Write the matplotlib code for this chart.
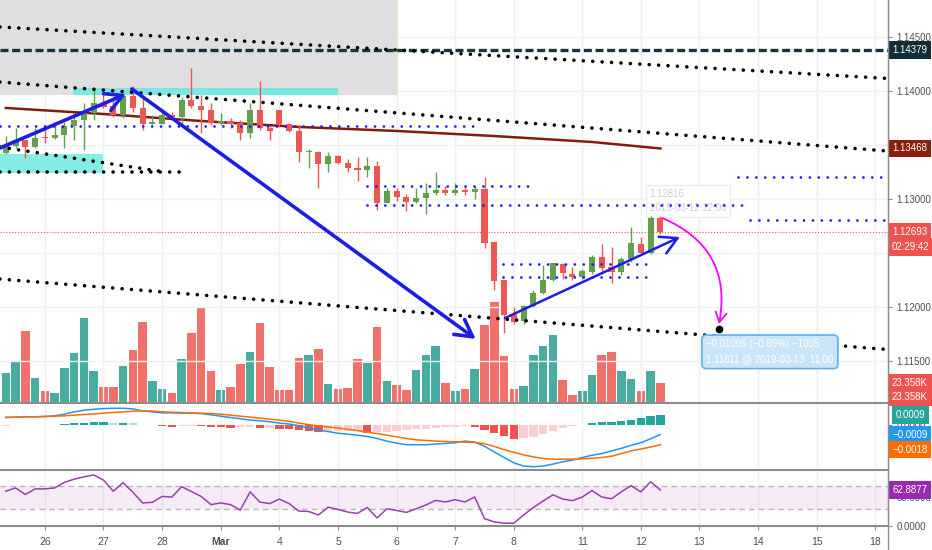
import matplotlib

matplotlib.use("Agg")
import matplotlib.pyplot as plt
import numpy as np
from matplotlib.lines import Line2D
from matplotlib.patches import FancyArrowPatch, Rectangle

plt.rcParams["font.family"] = ["Liberation Sans", "DejaVu Sans"]

# ---------- data (4h candles, EURUSD-like) ----------
opens = [1.13426, 1.13491, 1.13546, 1.13478, 1.13574, 1.13568, 1.13593, 1.13676, 1.13731, 1.13799,
         1.13892, 1.13861, 1.13778, 1.13954, 1.13846, 1.13694, 1.13694, 1.13778, 1.13759, 1.13917,
         1.13864, 1.13824, 1.13701, 1.13722, 1.13701, 1.13608, 1.13824, 1.13654, 1.13824, 1.13692,
         1.13630, 1.13438, 1.13438, 1.13321, 1.13398, 1.13336, 1.13290, 1.13269, 1.13306, 1.12966,
         1.13077, 1.13021, 1.12975, 1.13012, 1.13059, 1.13083, 1.13053, 1.13083, 1.13062, 1.13093,
         1.12599, 1.12250, 1.11935, 1.11873, 1.12009, 1.12127, 1.12250, 1.12398, 1.12306, 1.12275,
         1.12327, 1.12460, 1.12367, 1.12327, 1.12442, 1.12583, 1.12503, 1.12827]
highs = [1.13583, 1.13657, 1.13546, 1.13657, 1.13667, 1.13685, 1.13713, 1.13796, 1.13889, 1.14040,
         1.13981, 1.13944, 1.13981, 1.14046, 1.13944, 1.13778, 1.13806, 1.13806, 1.13947, 1.14213,
         1.13963, 1.13889, 1.13796, 1.13750, 1.13731, 1.13889, 1.14096, 1.13676, 1.13824, 1.13700,
         1.13685, 1.13463, 1.13444, 1.13438, 1.13407, 1.13370, 1.13386, 1.13386, 1.13355, 1.13099,
         1.13099, 1.13043, 1.13099, 1.13151, 1.13247, 1.13120, 1.13151, 1.13111, 1.13124, 1.13201,
         1.12605, 1.12250, 1.11997, 1.12018, 1.12154, 1.12389, 1.12410, 1.12404, 1.12370, 1.12355,
         1.12484, 1.12583, 1.12552, 1.12460, 1.12738, 1.12648, 1.12843, 1.12843]
lows = [1.13417, 1.13472, 1.13380, 1.13472, 1.13519, 1.13560, 1.13472, 1.13546, 1.13454, 1.13731,
        1.13843, 1.13759, 1.13750, 1.13806, 1.13639, 1.13690, 1.13690, 1.13750, 1.13685, 1.13843,
        1.13611, 1.13685, 1.13685, 1.13657, 1.13546, 1.13565, 1.13639, 1.13546, 1.13667, 1.13620,
        1.13345, 1.13287, 1.13099, 1.13253, 1.13324, 1.13253, 1.13167, 1.13207, 1.12898, 1.12960,
        1.12985, 1.12892, 1.12960, 1.12858, 1.13040, 1.13040, 1.13040, 1.13033, 1.13000, 1.12544,
        1.12157, 1.11762, 1.11847, 1.11843, 1.12000, 1.12120, 1.12240, 1.12255, 1.12250, 1.12262,
        1.12310, 1.12330, 1.12219, 1.12300, 1.12420, 1.12500, 1.12490, 1.12680]
closes = [1.13500, 1.13546, 1.13478, 1.13568, 1.13565, 1.13593, 1.13676, 1.13731, 1.13799, 1.13892,
          1.13855, 1.13778, 1.13954, 1.13846, 1.13694, 1.13710, 1.13778, 1.13756, 1.13917, 1.13864,
          1.13824, 1.13701, 1.13722, 1.13692, 1.13608, 1.13824, 1.13654, 1.13632, 1.13682, 1.13630,
          1.13438, 1.13445, 1.13321, 1.13398, 1.13336, 1.13290, 1.13269, 1.13306, 1.12966, 1.13077,
          1.13021, 1.12975, 1.13012, 1.13059, 1.13083, 1.13053, 1.13083, 1.13062, 1.13090, 1.12595,
          1.12244, 1.11926, 1.11864, 1.12009, 1.12127, 1.12250, 1.12404, 1.12318, 1.12275, 1.12336,
          1.12460, 1.12358, 1.12327, 1.12442, 1.12590, 1.12503, 1.12827, 1.12693]

# volume, thousands
volume_k = [34.7, 47.9, 84.5, 28.8, 13.7, 11.3, 40.5, 58.0, 99.3, 37.0,
            18.7, 18.7, 42.9, 61.9, 94.3, 25.7, 16.7, 11.3, 51.0, 81.4,
            110.6, 37.0, 14.8, 18.7, 45.9, 59.9, 93.4, 41.7, 15.5, 14.8,
            52.9, 55.7, 63.1, 21.8, 16.0, 17.2, 51.4, 46.4, 88.8, 25.3,
            21.4, 15.5, 38.5, 56.4, 66.9, 23.4, 13.7, 16.4, 39.7, 91.1,
            117.6, 54.5, 16.7, 20.2, 55.7, 66.9, 79.1, 26.9, 9.3, 13.7,
            32.4, 55.7, 59.9, 37.7, 28.4, 13.7, 37.7, 23.358]

# moving average (sampled at candle index)
ma_idx = [0, 10, 20, 30, 40, 50, 60, 67]
ma_val = [1.13843, 1.13787, 1.13722, 1.13667, 1.13630, 1.13583, 1.13528, 1.13468]

macd = [0.00069, 0.00072, 0.00075, 0.00075, 0.00078, 0.00084, 0.00099, 0.00120, 0.00135, 0.00144,
        0.00150, 0.00153, 0.00153, 0.00147, 0.00129, 0.00120, 0.00111, 0.00111, 0.00108, 0.00108,
        0.00105, 0.00093, 0.00081, 0.00069, 0.00057, 0.00045, 0.00039, 0.00030, 0.00018, 0.00009,
        -0.00006, -0.00027, -0.00045, -0.00060, -0.00075, -0.00084, -0.00093, -0.00105, -0.00123, -0.00147,
        -0.00165, -0.00180, -0.00180, -0.00180, -0.00174, -0.00168, -0.00162, -0.00147, -0.00156, -0.00195,
        -0.00246, -0.00297, -0.00345, -0.00375, -0.00381, -0.00375, -0.00357, -0.00336, -0.00321, -0.00297,
        -0.00276, -0.00261, -0.00237, -0.00213, -0.00186, -0.00162, -0.00126, -0.00087]
signal = [0.00069, 0.00072, 0.00075, 0.00075, 0.00078, 0.00081, 0.00084, 0.00090, 0.00096, 0.00102,
          0.00108, 0.00114, 0.00120, 0.00126, 0.00129, 0.00129, 0.00120, 0.00117, 0.00114, 0.00111,
          0.00108, 0.00105, 0.00099, 0.00090, 0.00081, 0.00072, 0.00063, 0.00054, 0.00045, 0.00033,
          0.00018, 0.00003, -0.00009, -0.00018, -0.00027, -0.00039, -0.00051, -0.00066, -0.00078, -0.00093,
          -0.00108, -0.00123, -0.00135, -0.00141, -0.00147, -0.00150, -0.00153, -0.00156, -0.00159, -0.00171,
          -0.00195, -0.00225, -0.00249, -0.00273, -0.00291, -0.00306, -0.00312, -0.00312, -0.00312, -0.00309,
          -0.00303, -0.00297, -0.00285, -0.00261, -0.00237, -0.00219, -0.00201, -0.00180]
hist = [-0.00006, 0.0, 0.0, 0.0, 0.00003, 0.00003, 0.00009, 0.00015, 0.00021, 0.00027,
        0.00027, 0.00018, 0.00021, 0.00015, 0.00003, 0.0, -0.00009, -0.00015, -0.00009, -0.00006,
        -0.00009, -0.00015, -0.00021, -0.00027, -0.00021, -0.00021, -0.00030, -0.00030, -0.00033, -0.00039,
        -0.00045, -0.00051, -0.00060, -0.00057, -0.00057, -0.00054, -0.00051, -0.00072, -0.00066, -0.00060,
        -0.00054, -0.00045, -0.00039, -0.00033, -0.00027, -0.00021, -0.00015, -0.00009, -0.00021, -0.00045,
        -0.00072, -0.00102, -0.00126, -0.00123, -0.00105, -0.00081, -0.00051, -0.00027, -0.00009, 0.0,
        0.00018, 0.00024, 0.00027, 0.00033, 0.00045, 0.00063, 0.00078, 0.00093]

rsi = [61.0, 66.7, 55.2, 65.0, 65.0, 66.7, 76.4, 82.1, 86.1, 89.5,
       80.4, 61.0, 75.8, 59.2, 40.4, 41.5, 51.8, 50.7, 69.0, 60.4,
       51.8, 37.5, 40.4, 37.5, 27.8, 59.8, 42.1, 39.2, 47.2, 39.2,
       26.1, 25.5, 19.3, 33.0, 29.0, 24.4, 22.1, 32.4, 14.1, 30.1,
       27.2, 23.8, 30.1, 36.9, 44.9, 42.1, 46.1, 42.1, 50.7, 12.9,
       7.2, 4.9, 4.9, 19.3, 32.4, 43.8, 54.7, 47.2, 44.4, 50.7,
       62.1, 50.7, 47.8, 59.8, 70.7, 59.8, 77.5, 63.2]

day_ticks = [4, 10, 16, 22, 28, 34, 40, 46, 52, 59, 65, 71, 77, 83, 89]
day_labels = ["26", "27", "28", "Mar", "4", "5", "6", "7", "8", "11", "12", "13", "14", "15", "18"]

price_grid = [1.115, 1.12, 1.125, 1.13, 1.135, 1.14, 1.145]
# 1.13500 and 1.12500 sit under the label boxes in the reference
price_ticks = [1.115, 1.12, 1.13, 1.14, 1.145]

# drawings, (candle index, price)
trend_black = [((-0.6, 90.3), (1.14593, 1.14116)),
               ((-0.6, 90.3), (1.14083, 1.13444)),
               ((-0.6, 90.3), (1.12259, 1.11606)),
               ((-0.6, 16.3), (1.13481, 1.13250)),
               ((-0.6, 17.8), (1.13250, 1.13250))]
levels_blue = [(-0.6, 48.0, 1.13679), (37.0, 54.0, 1.13120), (37.0, 76.0, 1.12944),
               (74.9, 90.0, 1.13204), (76.2, 90.0, 1.12806), (50.9, 65.7, 1.12398),
               (50.9, 65.7, 1.12275)]
arrows_blue = [((-0.6, 1.13472), (12.3, 1.13972), 2.6),
               ((12.9, 1.14019), (48.1, 1.11704), 2.6),
               ((51.1, 1.11898), (69.0, 1.12648), 1.8)]
last_price = 1.12693
line_14379 = 1.14379

# ---------- style ----------
UP, DOWN = "#62a04b", "#ee5652"
VOL_UP, VOL_DOWN = "#48ada0", "#f0716c"
BLUE = "#1d1de6"
GRID = "#eef0f4"
TXT = "#4f4f4f"
AXLINE = "#8c8c8c"

W, H = 932, 550
fig = plt.figure(figsize=(W / 100, H / 100), dpi=100)
fig.patch.set_facecolor("white")


def rect(top, bottom, right=888):
    return [0, 1 - bottom / H, right / W, (bottom - top) / H]


ax_vol = fig.add_axes(rect(0, 403))
ax = fig.add_axes(rect(0, 403), facecolor="none")
ax_macd = fig.add_axes(rect(404, 470))
ax_rsi = fig.add_axes(rect(472, 526))

XLIM = (-0.594, 90.3)
idx = np.arange(len(closes))
o = np.array(opens)
c = np.array(closes)
up = c >= o

for a in (ax_vol, ax, ax_macd, ax_rsi):
    a.set_xlim(*XLIM)
    for s in ("left", "top"):
        a.spines[s].set_visible(False)
    a.spines["right"].set_color(AXLINE)
    a.spines["bottom"].set_color(AXLINE)
    a.spines["bottom"].set_linewidth(1.5)
    a.set_xticks(day_ticks)
    a.tick_params(axis="x", length=0, labelbottom=False)
    for d in day_ticks:
        a.axvline(d, color=GRID, lw=1, zorder=0)

# volume (bottom of price pane)
ax_vol.set_ylim(0, 403 * 1.168)
ax_vol.bar(idx, volume_k, width=0.88, color=[VOL_UP if u else VOL_DOWN for u in up], zorder=2)
ax_vol.set_yticks([])
ax_vol.spines["bottom"].set_visible(False)
ax_vol.spines["right"].set_visible(False)

# price pane
ax.set_ylim(1.111111, 1.148426)
ax.set_yticks(price_ticks)
ax.set_yticklabels([f"{t:.5f}" for t in price_ticks])
ax.yaxis.tick_right()
ax.tick_params(axis="y", length=3, pad=3, labelsize=7, labelcolor=TXT, color=AXLINE)
for t in price_grid:
    ax.axhline(t, color=GRID, lw=1, zorder=0)

# zones
ax.add_patch(Rectangle((-0.6, 1.13963), 40.64, 0.0095, fc="#dfdfe1", ec="none", zorder=0.5))
ax.plot([40.04, 40.04], [1.13963, 1.1485], color="#f0eccb", lw=1, zorder=0.6)
ax.add_patch(Rectangle((6.88, 1.13963), 27.1, 0.00065, fc="#7be7e1", ec="none", zorder=0.7))
ax.add_patch(Rectangle((-0.6, 1.13241), 10.55, 0.00176, fc="#86ece6", ec="none", zorder=0.7))

# moving average
ax.plot(ma_idx, ma_val, color="#861a0c", lw=1.8, zorder=3)

# candles
ccol = [UP if u else DOWN for u in up]
ax.vlines(idx, lows, highs, colors=ccol, lw=1, zorder=4)
ax.bar(idx, np.maximum(np.abs(c - o), 0.00002), bottom=np.minimum(o, c), width=0.62,
       color=ccol, zorder=5)

# horizontal lines
ax.axhline(line_14379, color="#17343a", lw=2.4, linestyle=(0, (2.4, 1.1)), zorder=6)
ax.axhline(last_price, color="#ef5350", lw=0.8, linestyle=(0, (1, 1.6)), zorder=6)

for xs, ys in trend_black:
    ax.plot(xs, ys, color="black", lw=2.6, linestyle=(0, (0.01, 2.6)),
            dash_capstyle="round", zorder=6)
for x0, x1, yv in levels_blue:
    ax.plot([x0, x1], [yv, yv], color=BLUE, lw=2.0, linestyle=(0, (0.01, 3.2)),
            dash_capstyle="round", zorder=6)

for p0, p1, lw in arrows_blue:
    ax.add_patch(FancyArrowPatch(p0, p1, arrowstyle="->,head_length=0.6,head_width=0.33",
                                 mutation_scale=20, color=BLUE, lw=lw, zorder=7,
                                 shrinkA=0, shrinkB=0))

# projection arrow
ax.add_patch(FancyArrowPatch((67.2, 1.12824), (73.0, 1.11843), connectionstyle="arc3,rad=-0.4",
                             arrowstyle="->,head_length=0.35,head_width=0.2", mutation_scale=20,
                             color="#ff00ff", lw=1.3, zorder=7, shrinkA=0, shrinkB=0))
ax.plot([73.0], [1.11796], "o", color="black", ms=4.5, zorder=8)
ax.text(71.7, 1.11700, "\u22120.01005 (\u22120.89%) \u22121005\n1.11811 @ 2019-03-13  11:00",
        fontsize=7, color="white", va="top", ha="left", linespacing=1.6, zorder=8,
        bbox=dict(boxstyle="round,pad=0.45", fc="#cbe5f8", ec="#5eb0ee", lw=1.2))
ax.text(65.9, 1.12870, "1.12816\n2019-03-12 12:00", fontsize=7, color="#cdcdcd", va="bottom",
        ha="left", linespacing=1.5, zorder=2,
        bbox=dict(boxstyle="square,pad=0.4", fc="white", ec="#ececec", lw=1))


def axis_box(a, y, text, fc, trans=None):
    a.text(1.0248, y, text, transform=trans or a.get_yaxis_transform(), ha="center",
           va="center", fontsize=7, color="white", clip_on=False, zorder=20,
           bbox=dict(boxstyle="square,pad=0.38", fc=fc, ec="none"))


axis_box(ax, line_14379, "1.14379", "#102e33")
axis_box(ax, ma_val[-1], "1.13468", "#8a1f0c")
axis_box(ax, last_price, "1.12693", "#ef5350")
axis_box(ax, 1.12556, "02:29:42", "#ef5350")
axis_box(ax, 20 / 403, "23.358K", "#ef5350", ax.transAxes)
axis_box(ax, 6 / 403, "23.358K", "#ef5350", ax.transAxes)

# MACD pane
ax_macd.set_ylim(-0.00411, 0.00192)
hcol = []
for i, h in enumerate(hist):
    prev = hist[i - 1] if i else h
    if h >= 0:
        hcol.append("#26a69a" if h >= prev else "#b2dfdb")
    else:
        hcol.append("#ef5350" if h < prev else "#ffcdd2")
ax_macd.bar(idx, hist, width=0.85, color=hcol, zorder=2)
ax_macd.plot(idx, macd, color="#2196f3", lw=1.1, zorder=3)
ax_macd.plot(idx, signal, color="#ff6d00", lw=1.1, zorder=3)
ax_macd.yaxis.tick_right()
ax_macd.set_yticks([0.0])
ax_macd.set_yticklabels(["0.0000"])
ax_macd.tick_params(axis="y", length=3, pad=3, labelsize=7, labelcolor=TXT, color=AXLINE)
axis_box(ax_macd, 0.00093, "0.0009", "#26a69a")
axis_box(ax_macd, -0.00087, "\u22120.0009", "#2196f3")
axis_box(ax_macd, -0.00225, "\u22120.0018", "#ff6d00")

# RSI pane
ax_rsi.set_ylim(0, 94.6)
ax_rsi.axhspan(30, 70, color="#9c27b0", alpha=0.09, lw=0, zorder=1)
for lvl in (30, 70):
    ax_rsi.axhline(lvl, color="#b8b8b8", lw=1, linestyle=(0, (4, 3)), zorder=2)
ax_rsi.plot(idx, rsi, color="#9a3fae", lw=1.1, zorder=3)
ax_rsi.yaxis.tick_right()
ax_rsi.set_yticks([0, 50])
ax_rsi.set_yticklabels(["0.0000", "50.0000"])
ax_rsi.tick_params(axis="y", length=3, pad=3, labelsize=7, labelcolor=TXT, color=AXLINE)
axis_box(ax_rsi, 62.8877, "62.8877", "#9c27b0")
ax_rsi.tick_params(axis="x", length=3, color=AXLINE, labelbottom=True, labelsize=7.5,
                   labelcolor=TXT, pad=5)
ax_rsi.set_xticklabels(day_labels)
for lab in ax_rsi.get_xticklabels():
    if lab.get_text() == "Mar":
        lab.set_fontweight("bold")

# right price-scale border down to the bottom
fig.add_artist(Line2D([888 / W, 888 / W], [0, 1], color=AXLINE, lw=1))

fig.savefig("out.png", dpi=100, facecolor="white")
